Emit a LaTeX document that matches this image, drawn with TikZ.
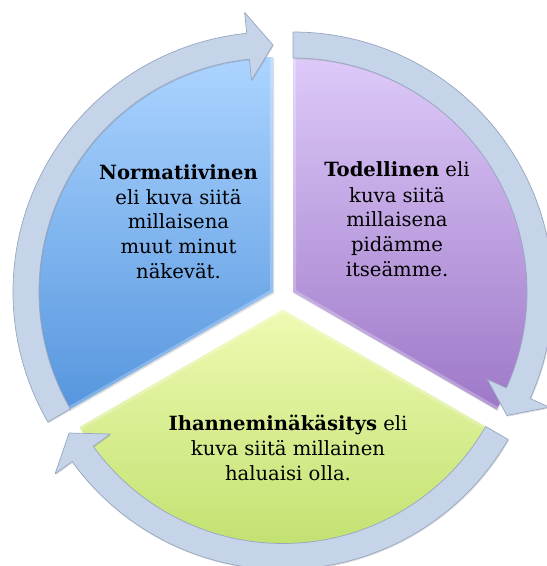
\documentclass[tikz,border=0pt]{standalone}
\usepackage{fontspec}
\setmainfont{DejaVu Serif}
\usetikzlibrary{calc,shadows}
\definecolor{ringfill}{RGB}{198,212,233}
\definecolor{ringedge}{RGB}{150,166,192}
\definecolor{blueTop}{RGB}{172,212,255}
\definecolor{blueBot}{RGB}{86,150,222}
\definecolor{purpleTop}{RGB}{221,202,249}
\definecolor{purpleBot}{RGB}{158,120,200}
\definecolor{greenTop}{RGB}{238,250,178}
\definecolor{greenBot}{RGB}{188,222,104}
\newcommand\drawcyclearrow[4]{% center, start angle, tip angle, back angle
  \path[ringarrow] ($(#1)+(#2:260pt)$) arc[start angle=#2,end angle=#4,radius=260pt]
    -- ($(#1)+(#4:281pt)$) -- ($(#1)+(#3:247pt)$) -- ($(#1)+(#4:213pt)$)
    -- ($(#1)+(#4:234pt)$) arc[start angle=#4,end angle=#2,radius=234pt] -- cycle;}
\begin{document}
\begin{tikzpicture}[
  ringarrow/.style={fill=ringfill, draw=ringedge, line width=0.7pt, line join=round,
    drop shadow={opacity=0.25, shadow xshift=0.8pt, shadow yshift=-1.2pt}},
  sectorshadow/.style={drop shadow={opacity=0.25, shadow xshift=1pt, shadow yshift=-1.5pt}},
  bevel/.style={white, opacity=0.25, line width=6pt},
  textlabel/.style={align=center, inner sep=0pt, font=\fontsize{19.6}{25}\selectfont, text=black}
]
\useasboundingbox (0,0) rectangle (547pt,566pt);
\coordinate (B) at (273pt,274pt);
\coordinate (P) at (293pt,274pt);
\coordinate (G) at (283pt,256.5pt);
% sectors
\path[sectorshadow, top color=blueTop, bottom color=blueBot]
  (B) -- ++(90:235pt) arc[start angle=90,end angle=210,radius=235pt] -- cycle;
\path[sectorshadow, top color=purpleTop, bottom color=purpleBot]
  (P) -- ++(90:235pt) arc[start angle=90,end angle=-30,radius=235pt] -- cycle;
\path[sectorshadow, top color=greenTop, bottom color=greenBot]
  (G) -- ++(-30:235pt) arc[start angle=-30,end angle=-150,radius=235pt] -- cycle;
% bevels
\begin{scope}
  \clip (B) -- ++(90:235pt) arc[start angle=90,end angle=210,radius=235pt] -- cycle;
  \draw[bevel] ($(B)+(90:240pt)$) -- (B) -- ($(B)+(210:240pt)$);
\end{scope}
\begin{scope}
  \clip (P) -- ++(90:235pt) arc[start angle=90,end angle=-30,radius=235pt] -- cycle;
  \draw[bevel] ($(P)+(90:240pt)$) -- (P) -- ($(P)+(-30:240pt)$);
\end{scope}
\begin{scope}
  \clip (G) -- ++(-30:235pt) arc[start angle=-30,end angle=-150,radius=235pt] -- cycle;
  \draw[bevel] ($(G)+(-30:240pt)$) -- (G) -- ($(G)+(-150:240pt)$);
\end{scope}
% arrows
\drawcyclearrow{B}{210}{90}{95.8}
\drawcyclearrow{P}{90}{-30}{-24.2}
\drawcyclearrow{G}{-30}{-150}{-144.2}
% texts (anchor base = baseline of last line)
\node[textlabel, anchor=base] (norm) at (178.5pt,287pt)
  {\textbf{Normatiivinen}\\eli kuva siitä\\millaisena\\muut minut\\näkevät.};
\node[textlabel, anchor=base] (tod) at (397pt,289pt)
  {\textbf{Todellinen} eli\\kuva siitä\\millaisena\\pidämme\\itseämme.};
\node[textlabel, anchor=base] (ihanne) at (288pt,85pt)
  {\textbf{Ihanneminäkäsitys} eli\\kuva siitä millainen\\haluaisi olla.};
\end{tikzpicture}
\end{document}
